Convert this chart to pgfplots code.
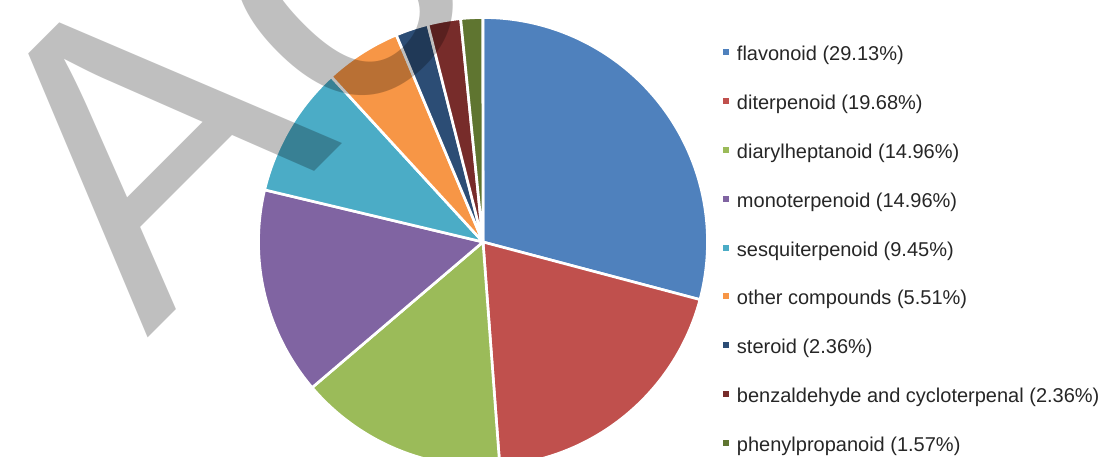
\documentclass[border=0pt]{standalone}
\usepackage{fontspec}
\setmainfont{Liberation Sans}
\usepackage{pgfplots}
\pgfplotsset{compat=1.18}
\definecolor{c1}{HTML}{4F81BD}
\definecolor{c2}{HTML}{C0504D}
\definecolor{c3}{HTML}{9BBB59}
\definecolor{c4}{HTML}{8064A2}
\definecolor{c5}{HTML}{4BACC6}
\definecolor{c6}{HTML}{F79646}
\definecolor{c7}{HTML}{2C4D75}
\definecolor{c8}{HTML}{772C2A}
\definecolor{c9}{HTML}{5F7530}
\begin{document}
\begin{tikzpicture}
\useasboundingbox (0,0) rectangle (838.5pt,342.75pt);
\clip (0,0) rectangle (838.5pt,342.75pt);
\begin{axis}[
  at={(362.25pt,161.25pt)}, anchor=center,
  scale only axis, width=336.75pt, height=336.75pt,
  xmin=-1, xmax=1, ymin=-1, ymax=1,
  hide axis, clip=false,
  legend entries={flavonoid (29.13\%), diterpenoid (19.68\%), diarylheptanoid (14.96\%), monoterpenoid (14.96\%), sesquiterpenoid (9.45\%), other compounds (5.51\%), steroid (2.36\%), benzaldehyde and cycloterpenal (2.36\%), phenylpropanoid (1.57\%)},
  legend cell align=left,
  legend image code/.code={\fill[#1, draw=none] (0pt,0.5pt) rectangle (4.5pt,5pt);},
  legend style={at={(1.0345,0.9358)}, anchor=north west, draw=none, fill=none,
    inner sep=0pt, outer sep=0pt, row sep=21.85pt, column sep=6pt,
    font=\fontsize{15}{18}\selectfont, text=black!85,
    nodes={inner sep=0pt, text height=11pt, text depth=3.75pt}},
]
\def\cum{0}
\foreach \p/\c in {29.13/c1, 19.68/c2, 14.96/c3, 14.96/c4, 9.45/c5, 5.51/c6, 2.36/c7, 2.36/c8, 1.57/c9} {
  \pgfmathsetmacro\sa{90-3.6*\cum}
  \pgfmathsetmacro\ea{90-3.6*(\cum+\p)}
  \edef\tmp{\noexpand\addplot[fill=\c, draw=white, line width=2pt, line join=round, domain=\ea:\sa, samples=80] ({cos(x)},{sin(x)}) -- (axis cs:0,0) -- cycle;}
  \tmp
  \pgfmathsetmacro\newcum{\cum+\p}
  \global\let\cum\newcum
}
\end{axis}
\node[anchor=base west, rotate=45, inner sep=0pt, text=black, text opacity=0.25,
  font=\fontsize{311}{311}\selectfont] at (110.5pt,89pt) {Ac};
\end{tikzpicture}
\end{document}
